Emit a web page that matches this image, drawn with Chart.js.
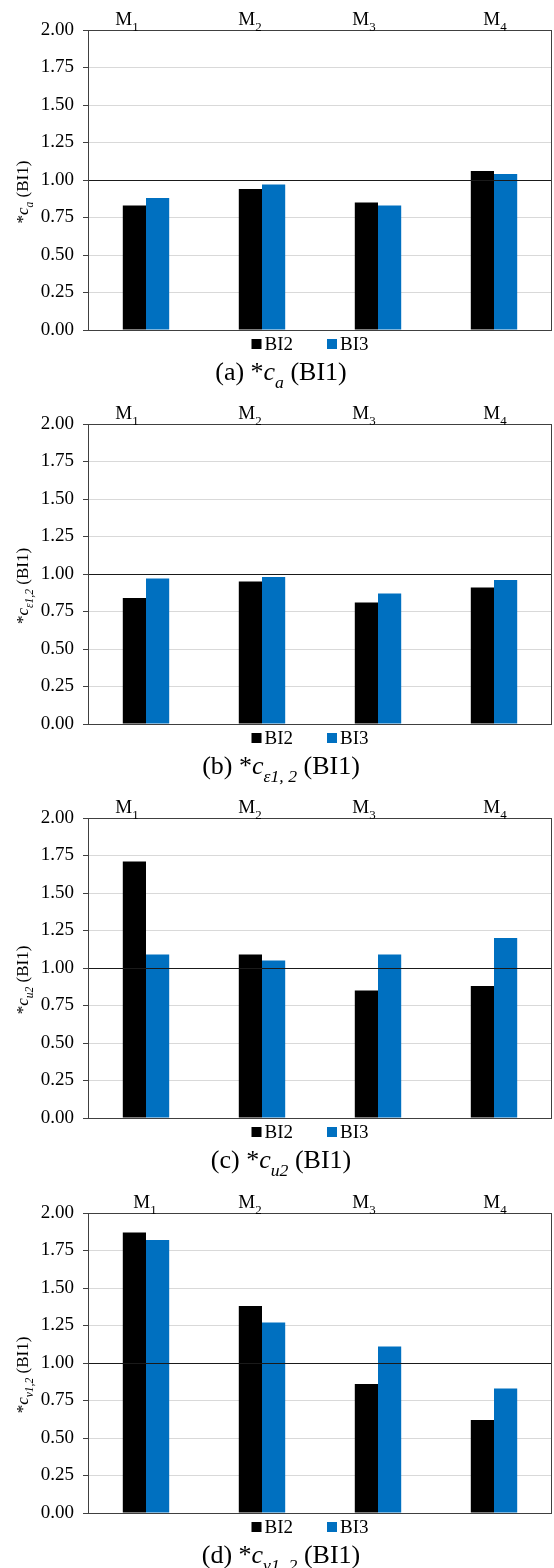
<!DOCTYPE html>
<html><head><meta charset="utf-8">
<script src="https://cdn.jsdelivr.net/npm/chart.js@4.4.1/dist/chart.umd.min.js"></script>
<style>
html,body{margin:0;padding:0;background:#fff;}
body{width:554px;height:1568px;position:relative;overflow:hidden;}
.panel{position:absolute;left:0;width:554px;}
canvas{display:block;}
</style></head><body>
<div class="panel" style="top:0px"><canvas id="c0" width="554" height="394"></canvas></div>
<div class="panel" style="top:394px"><canvas id="c1" width="554" height="394"></canvas></div>
<div class="panel" style="top:788px"><canvas id="c2" width="554" height="394"></canvas></div>
<div class="panel" style="top:1183px"><canvas id="c3" width="554" height="385"></canvas></div>
<script>
// ---------- data ----------
const categories = ['M1', 'M2', 'M3', 'M4'];
const seriesNames = ['BI2', 'BI3'];
const seriesColors = ['#000000', '#0070C0'];

const caBI2 = [0.83, 0.94, 0.85, 1.06];
const caBI3 = [0.88, 0.97, 0.83, 1.04];

const ceBI2 = [0.84, 0.95, 0.81, 0.91];
const ceBI3 = [0.97, 0.98, 0.87, 0.96];

const cuBI2 = [1.71, 1.09, 0.85, 0.88];
const cuBI3 = [1.09, 1.05, 1.09, 1.20];

const cvBI2 = [1.87, 1.38, 0.86, 0.62];
const cvBI3 = [1.82, 1.27, 1.11, 0.83];

const yMin = 0, yMax = 2, yStep = 0.25;
const refValue = 1;

// ---------- rendering ----------
const FONT = "'Liberation Serif','Times New Roman',serif";
Chart.defaults.font.family = FONT;

function drawRich(ctx, segs, x, y, size, align) {
  const parts = segs.map(s => {
    const fs = s.sub ? size * 0.68 : size;
    const font = (s.i ? 'italic ' : '') + fs + 'px ' + FONT;
    ctx.font = font;
    return { s, font, w: ctx.measureText(s.t).width, dy: s.sub ? size * 0.3 : 0 };
  });
  const total = parts.reduce((a, p) => a + p.w, 0);
  let cx = align === 'center' ? x - total / 2 : x;
  ctx.textAlign = 'left';
  ctx.textBaseline = 'alphabetic';
  ctx.fillStyle = '#000';
  for (const p of parts) { ctx.font = p.font; ctx.fillText(p.s.t, cx, y + p.dy); cx += p.w; }
}

const panels = [
  { id: 'c0', d2: caBI2, d3: caBI3,
    ytitle: [{t:'*'},{t:'c',i:1},{t:'a',i:1,sub:1},{t:' (BI1)'}],
    caption: [{t:'(a) *'},{t:'c',i:1},{t:'a',i:1,sub:1},{t:' (BI1)'}],
    labelShift: [-19, -12, -14, 1] },
  { id: 'c1', d2: ceBI2, d3: ceBI3,
    ytitle: [{t:'*'},{t:'c',i:1},{t:'ε1,2',i:1,sub:1},{t:' (BI1)'}],
    caption: [{t:'(b) *'},{t:'c',i:1},{t:'ε1, 2',i:1,sub:1},{t:' (BI1)'}],
    labelShift: [-19, -12, -14, 1] },
  { id: 'c2', d2: cuBI2, d3: cuBI3,
    ytitle: [{t:'*'},{t:'c',i:1},{t:'u2',i:1,sub:1},{t:' (BI1)'}],
    caption: [{t:'(c) *'},{t:'c',i:1},{t:'u2',i:1,sub:1},{t:' (BI1)'}],
    labelShift: [-19, -12, -14, 1] },
  { id: 'c3', d2: cvBI2, d3: cvBI3,
    ytitle: [{t:'*'},{t:'c',i:1},{t:'v1,2',i:1,sub:1},{t:' (BI1)'}],
    caption: [{t:'(d) *'},{t:'c',i:1},{t:'v1, 2',i:1,sub:1},{t:' (BI1)'}],
    labelShift: [-1, -12, -14, 1] }
];

const decorPlugin = {
  id: 'decor',
  afterDatasetsDraw(chart, args, opts) {
    const ctx = chart.ctx, a = chart.chartArea, ys = chart.scales.y;
    ctx.save();
    const yr = Math.round(ys.getPixelForValue(refValue)) + 0.5;
    ctx.strokeStyle = '#1a1a1a'; ctx.lineWidth = 1;
    ctx.beginPath(); ctx.moveTo(a.left, yr); ctx.lineTo(a.right, yr); ctx.stroke();
    ctx.strokeStyle = '#404040';
    ctx.strokeRect(Math.round(a.left) + 0.5, Math.round(a.top) + 0.5,
                   Math.round(a.right - a.left) - 1, Math.round(a.bottom - a.top));
    ctx.restore();
  },
  afterDraw(chart, args, opts) {
    const ctx = chart.ctx, a = chart.chartArea, xs = chart.scales.x;
    const p = opts.panel;
    ctx.save();
    // top category labels (M with subscript)
    chart.data.labels.forEach((lab, i) => {
      const x = xs.getPixelForValue(i) + p.labelShift[i];
      drawRich(ctx, [{t: lab[0]}, {t: lab.slice(1), sub: 1}], x, a.top - 5, 19, 'center');
    });
    // y-axis title (rotated)
    ctx.save();
    ctx.translate(28, (a.top + a.bottom) / 2 + 12);
    ctx.rotate(-Math.PI / 2);
    drawRich(ctx, p.ytitle, 0, 0, 17, 'center');
    ctx.restore();
    // legend
    ctx.font = '19px ' + FONT;
    const box = 10, gapBT = 3, gapItem = 34;
    const items = chart.data.datasets.map(ds => ({ text: ds.label, color: ds.backgroundColor, w: ctx.measureText(ds.label).width }));
    const total = items.reduce((s, it) => s + box + gapBT + it.w, 0) + gapItem * (items.length - 1);
    let lx = 310 - total / 2;
    const ly = 344;
    items.forEach(it => {
      ctx.fillStyle = it.color;
      ctx.fillRect(lx, ly - box / 2, box, box);
      lx += box + gapBT;
      ctx.fillStyle = '#000';
      ctx.textAlign = 'left'; ctx.textBaseline = 'middle';
      ctx.fillText(it.text, lx, ly + 1);
      lx += it.w + gapItem;
    });
    // caption
    drawRich(ctx, p.caption, 281, 380, 26, 'center');
    ctx.restore();
  }
};

panels.forEach(p => {
  const canvas = document.getElementById(p.id);
  new Chart(canvas, {
    type: 'bar',
    data: {
      labels: categories,
      datasets: [
        { label: seriesNames[0], data: p.d2, backgroundColor: seriesColors[0] },
        { label: seriesNames[1], data: p.d3, backgroundColor: seriesColors[1] }
      ]
    },
    options: {
      responsive: false,
      animation: false,
      devicePixelRatio: 1,
      layout: { padding: { top: 30, bottom: canvas.height - 330, left: 0, right: 2 } },
      datasets: { bar: { categoryPercentage: 0.4, barPercentage: 1.0 } },
      plugins: { legend: { display: false }, tooltip: { enabled: false }, decor: { panel: p } },
      scales: {
        x: { display: false },
        y: {
          min: yMin, max: yMax,
          afterFit: s => { s.width = 88; },
          ticks: { stepSize: yStep, padding: 9, color: '#000',
                   font: { size: 19, family: FONT },
                   callback: v => Number(v).toFixed(2) },
          grid: {
            tickLength: 5,
            tickColor: '#404040',
            color: c => {
              const v = c.tick ? c.tick.value : null;
              if (v === yMin || v === yMax) return '#404040';
              if (v === refValue) return '#1a1a1a';
              return '#d9d9d9';
            }
          },
          border: { display: true, color: '#404040' }
        }
      }
    },
    plugins: [decorPlugin]
  });
});
</script>
</body></html>
